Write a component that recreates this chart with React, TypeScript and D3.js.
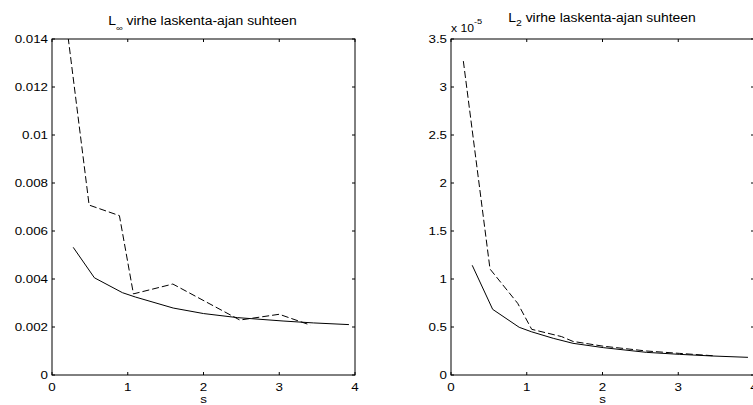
import React from "react";
import * as d3 from "d3";

// ---- data ----
const linfSolidX = [0.28, 0.56, 0.93, 1.1, 1.6, 2.0, 2.45, 3.05, 3.45, 3.92];
const linfSolidY = [0.00532, 0.00405, 0.00343, 0.00325, 0.00279, 0.00256, 0.00239, 0.00225, 0.00217, 0.0021];
const linfDashX = [0.18, 0.49, 0.89, 1.075, 1.595, 2.48, 3.0, 3.41];
const linfDashY = [0.0149, 0.00708, 0.00664, 0.00338, 0.00379, 0.00229, 0.00253, 0.00208];

const l2SolidX = [0.28, 0.55, 0.9, 1.06, 1.35, 1.61, 2.01, 2.58, 3.02, 3.45, 3.92];
const l2SolidY = [1.143, 0.684, 0.497, 0.451, 0.382, 0.33, 0.285, 0.236, 0.215, 0.198, 0.184];
const l2DashX = [0.163, 0.515, 0.88, 1.065, 1.46, 1.61, 2.01, 2.58, 3.02, 3.47];
const l2DashY = [3.27, 1.104, 0.747, 0.476, 0.4, 0.35, 0.3, 0.25, 0.225, 0.2];

const xTicks = [0, 1, 2, 3, 4];
const linfYTicks = [0, 0.002, 0.004, 0.006, 0.008, 0.01, 0.012, 0.014];
const linfYLabels = ["0", "0.002", "0.004", "0.006", "0.008", "0.01", "0.012", "0.014"];
const l2YTicks = [0, 0.5, 1, 1.5, 2, 2.5, 3, 3.5];
const l2YLabels = ["0", "0.5", "1", "1.5", "2", "2.5", "3", "3.5"];

const FONT = "'Liberation Sans', Arial, Helvetica, sans-serif";
const SX = 1.16;

function T(props: {
  x: number;
  y: number;
  anchor?: "start" | "middle" | "end";
  size?: number;
  children: React.ReactNode;
}) {
  return (
    <text
      transform={`translate(${props.x},${props.y}) scale(${SX},1)`}
      textAnchor={props.anchor || "start"}
      fontSize={props.size || 11.5}
      fontFamily={FONT}
      fill="#000"
    >
      {props.children}
    </text>
  );
}

type PanelProps = {
  id: string;
  left: number;
  right: number;
  top: number;
  bottom: number;
  yMax: number;
  yTicks: number[];
  yLabels: string[];
  solid: [number[], number[]];
  dashed: [number[], number[]];
};

function Panel(p: PanelProps) {
  const x = d3.scaleLinear().domain([0, 4]).range([p.left, p.right]);
  const y = d3.scaleLinear().domain([0, p.yMax]).range([p.bottom, p.top]);
  const line = d3
    .line<[number, number]>()
    .x((d) => x(d[0]))
    .y((d) => y(d[1]));
  const solidPts = p.solid[0].map((v, i) => [v, p.solid[1][i]] as [number, number]);
  const dashPts = p.dashed[0].map((v, i) => [v, p.dashed[1][i]] as [number, number]);
  const tl = 3;
  return (
    <g>
      <defs>
        <clipPath id={p.id}>
          <rect x={p.left} y={p.top} width={p.right - p.left} height={p.bottom - p.top} />
        </clipPath>
      </defs>
      <g clipPath={`url(#${p.id})`} fill="none" stroke="#000" strokeWidth={1}>
        <path d={line(solidPts) || ""} />
        <path d={line(dashPts) || ""} strokeDasharray="7,3" />
      </g>
      <rect
        x={p.left}
        y={p.top}
        width={p.right - p.left}
        height={p.bottom - p.top}
        fill="none"
        stroke="#000"
        strokeWidth={1}
      />
      {xTicks.map((t) => (
        <g key={"x" + t}>
          <line x1={x(t)} x2={x(t)} y1={p.bottom} y2={p.bottom - tl} stroke="#000" />
          <line x1={x(t)} x2={x(t)} y1={p.top} y2={p.top + tl} stroke="#000" />
          <T x={x(t)} y={p.bottom + 16} anchor="middle">
            {t}
          </T>
        </g>
      ))}
      {p.yTicks.map((t, i) => (
        <g key={"y" + t}>
          <line x1={p.left} x2={p.left + tl} y1={y(t)} y2={y(t)} stroke="#000" />
          <line x1={p.right} x2={p.right - tl} y1={y(t)} y2={y(t)} stroke="#000" />
          <T x={p.left - 4} y={y(t) + 4} anchor="end">
            {p.yLabels[i]}
          </T>
        </g>
      ))}
      <T x={(p.left + p.right) / 2} y={p.bottom + 28} anchor="middle">
        s
      </T>
    </g>
  );
}

export default function App() {
  return (
    <svg
      width={753}
      height={405}
      style={{ position: "absolute", left: 0, top: 0, background: "#fff" }}
    >
      <rect x={0} y={0} width={753} height={405} fill="#fff" />
      <Panel
        id="clipA"
        left={52}
        right={355}
        top={39}
        bottom={375}
        yMax={0.014}
        yTicks={linfYTicks}
        yLabels={linfYLabels}
        solid={[linfSolidX, linfSolidY]}
        dashed={[linfDashX, linfDashY]}
      />
      <Panel
        id="clipB"
        left={451}
        right={754}
        top={39}
        bottom={375}
        yMax={3.5}
        yTicks={l2YTicks}
        yLabels={l2YLabels}
        solid={[l2SolidX, l2SolidY]}
        dashed={[l2DashX, l2DashY]}
      />
      <T x={202.5} y={24.5} anchor="middle" size={12}>
        L
        <tspan fontSize={8} dy={6}>∞</tspan>
        <tspan dy={-6}> virhe laskenta-ajan suhteen</tspan>
      </T>
      <T x={602} y={22} anchor="middle" size={12}>
        L
        <tspan fontSize={9} dy={3.5}>2</tspan>
        <tspan dy={-3.5}> virhe laskenta-ajan suhteen</tspan>
      </T>
      <T x={451} y={32} size={10.5}>
        x 10
        <tspan fontSize={8} dy={-8.5}>-5</tspan>
      </T>
    </svg>
  );
}
